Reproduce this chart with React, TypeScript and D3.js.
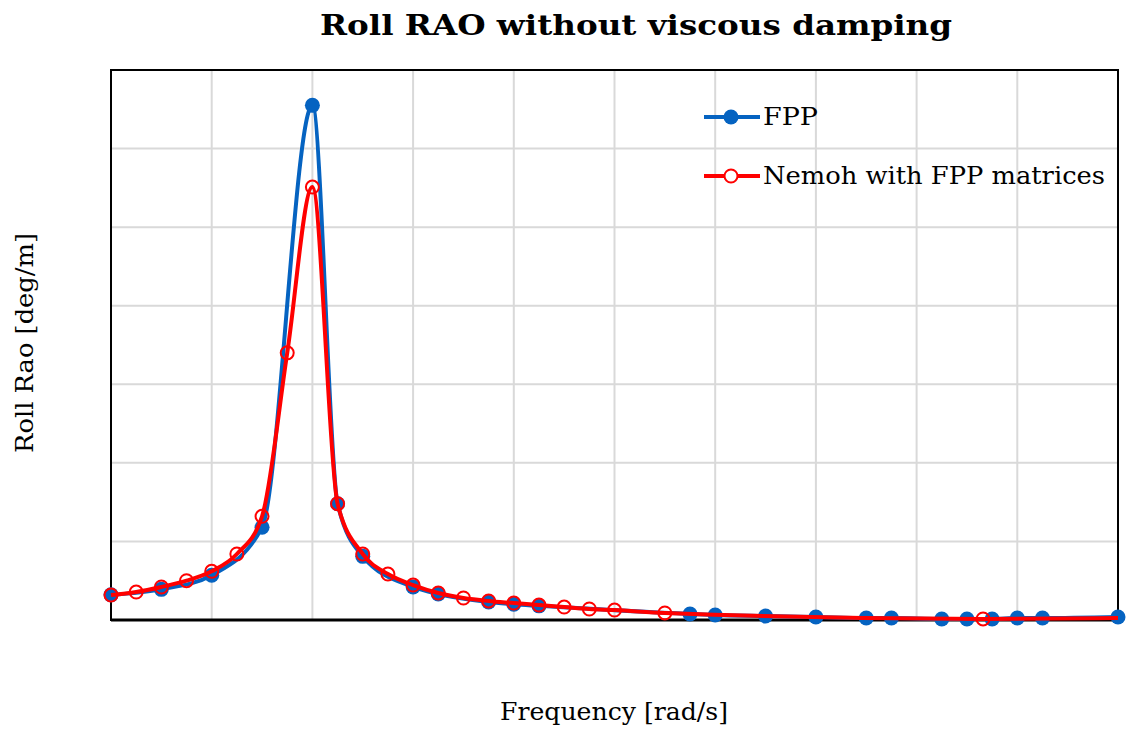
import React from 'react';
import * as d3 from 'd3';

// frequency axis (grid every 0.2), no tick labels shown in the original
const fppFreq = [0, 0.1, 0.2, 0.3, 0.4, 0.45, 0.5, 0.6, 0.65, 0.75, 0.8, 0.85, 1.15, 1.2, 1.3, 1.4, 1.5, 1.55, 1.65, 1.7, 1.75, 1.8, 1.85, 2.0];
const fppRao = [0.32, 0.39, 0.57, 1.18, 6.55, 1.48, 0.81, 0.42, 0.33, 0.23, 0.2, 0.18, 0.076, 0.064, 0.05, 0.038, 0.025, 0.025, 0.013, 0.013, 0.013, 0.025, 0.025, 0.038];

const nemohFreq = [0, 0.05, 0.1, 0.15, 0.2, 0.25, 0.3, 0.35, 0.4, 0.45, 0.5, 0.55, 0.6, 0.65, 0.7, 0.75, 0.8, 0.85, 0.9, 0.95, 1.0, 1.1, 1.732, 2.0];
const nemohRao = [0.318, 0.356, 0.42, 0.5, 0.62, 0.84, 1.32, 3.4, 5.51, 1.48, 0.84, 0.585, 0.445, 0.344, 0.28, 0.242, 0.216, 0.19, 0.165, 0.14, 0.127, 0.09, 0.013, 0.025];

const xTicks = [0, 0.2, 0.4, 0.6, 0.8, 1.0, 1.2, 1.4, 1.6, 1.8, 2.0];
const yTicks = [0, 1, 2, 3, 4, 5, 6, 7];

const W = 1127;
const H = 731;
const m = { left: 111, right: 1118, top: 70, bottom: 620 };
const font = '"DejaVu Serif", "Liberation Serif", serif';
const BLUE = '#0563C1';
const RED = '#FF0000';

export default function App() {
  const x = d3.scaleLinear().domain([0, 2]).range([m.left, m.right]);
  const y = d3.scaleLinear().domain([0, 7]).range([m.bottom, m.top]);

  const fpp = fppFreq.map((f, i) => [f, fppRao[i]] as [number, number]);
  const nemoh = nemohFreq.map((f, i) => [f, nemohRao[i]] as [number, number]);

  // smooth without overshoot
  const line = d3
    .line<[number, number]>()
    .x(d => x(d[0]))
    .y(d => y(d[1]))
    .curve(d3.curveMonotoneX);

  return (
    <svg width={W} height={H} style={{ position: 'absolute', left: 0, top: 0, background: '#fff' }} fontFamily={font}>
      <rect x={0} y={0} width={W} height={H} fill="#fff" />
      {/* grid */}
      {xTicks.slice(1, -1).map(t => (
        <line key={'gx' + t} x1={x(t)} x2={x(t)} y1={m.top} y2={m.bottom} stroke="#d9d9d9" strokeWidth={2} />
      ))}
      {yTicks.slice(1, -1).map(t => (
        <line key={'gy' + t} x1={m.left} x2={m.right} y1={y(t)} y2={y(t)} stroke="#d9d9d9" strokeWidth={2} />
      ))}
      <rect x={m.left} y={m.top} width={m.right - m.left} height={m.bottom - m.top} fill="none" stroke="#000" strokeWidth={2} />
      <line x1={m.left} x2={m.right} y1={m.bottom} y2={m.bottom} stroke="#000" strokeWidth={3} />

      {/* FPP */}
      <path d={line(fpp) || ''} fill="none" stroke={BLUE} strokeWidth={4} />
      {fpp.map((d, i) => (
        <circle key={'b' + i} cx={x(d[0])} cy={y(d[1])} r={7.5} fill={BLUE} />
      ))}

      {/* Nemoh */}
      <path d={line(nemoh) || ''} fill="none" stroke={RED} strokeWidth={4} />
      {nemoh.slice(0, -1).map((d, i) => (
        <circle key={'r' + i} cx={x(d[0])} cy={y(d[1])} r={6.5} fill="none" stroke={RED} strokeWidth={2} />
      ))}

      {/* legend */}
      <g>
        <line x1={704} x2={760} y1={117} y2={117} stroke={BLUE} strokeWidth={4} />
        <circle cx={731} cy={117} r={7.5} fill={BLUE} />
        <text x={763} y={125} fontSize={24} fill="#000" textLength={55} lengthAdjust="spacingAndGlyphs">FPP</text>
        <line x1={704} x2={760} y1={176} y2={176} stroke={RED} strokeWidth={4} />
        <circle cx={731} cy={176} r={6.5} fill="#fff" stroke={RED} strokeWidth={2} />
        <text x={763} y={184} fontSize={24} fill="#000" textLength={342} lengthAdjust="spacingAndGlyphs">
          Nemoh with FPP matrices
        </text>
      </g>

      {/* titles */}
      <text x={320} y={35} fontSize={27} fontWeight="bold" fill="#000" textLength={632} lengthAdjust="spacingAndGlyphs">
        Roll RAO without viscous damping
      </text>
      <text x={500} y={720} fontSize={24} fill="#000" textLength={228} lengthAdjust="spacingAndGlyphs">
        Frequency [rad/s]
      </text>
      <text transform="translate(33,453) rotate(-90)" fontSize={24} fill="#000" textLength={220} lengthAdjust="spacingAndGlyphs">
        Roll Rao [deg/m]
      </text>
    </svg>
  );
}
